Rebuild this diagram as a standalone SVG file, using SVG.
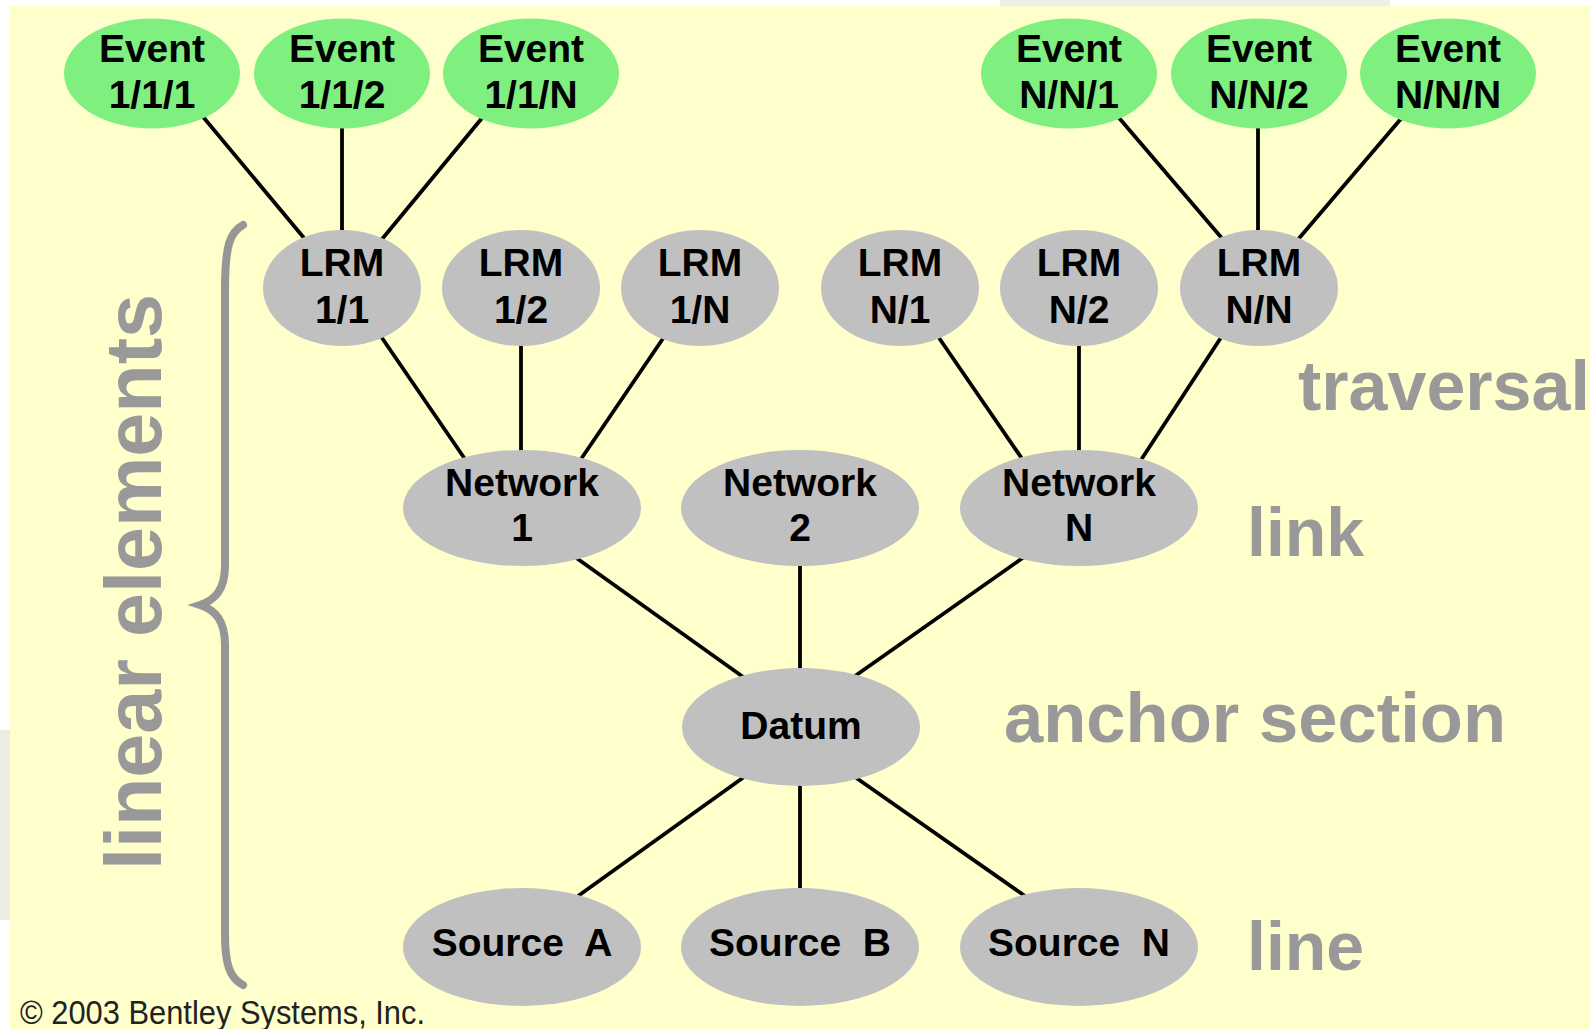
<svg xmlns="http://www.w3.org/2000/svg" width="1590" height="1029" viewBox="0 0 1590 1029">
<style>
.ev{fill:#7ff07f}
.gr{fill:#c0c0c0}
.nt{font-family:"Liberation Sans",Arial,sans-serif;font-weight:bold;font-size:39px;fill:#000;text-anchor:middle}
.lb{font-family:"Liberation Sans",Arial,sans-serif;font-weight:bold;fill:#999999}
.cn line{stroke:#000;stroke-width:3.8}
</style>
<rect x="0" y="0" width="1590" height="1029" fill="#ffffff"/>
<rect x="10" y="6" width="1580" height="1023" fill="#ffffcc"/>
<rect x="1000" y="0" width="390" height="6" fill="#eef0e8"/>
<rect x="0" y="730" width="10" height="190" fill="#eceee4"/>

<g id="connectors" class="cn">
<line x1="199" y1="112" x2="309" y2="244"/>
<line x1="342" y1="122" x2="342" y2="236"/>
<line x1="487" y1="112" x2="378" y2="244"/>
<line x1="1114" y1="112" x2="1226" y2="243"/>
<line x1="1258" y1="122" x2="1258" y2="236"/>
<line x1="1405" y1="114" x2="1295" y2="243"/>
<line x1="380" y1="335" x2="467" y2="462"/>
<line x1="521" y1="340" x2="521" y2="456"/>
<line x1="664" y1="337" x2="579" y2="462"/>
<line x1="937" y1="335" x2="1025" y2="463"/>
<line x1="1079" y1="340" x2="1079" y2="456"/>
<line x1="1222" y1="336" x2="1139" y2="463"/>
<line x1="575" y1="557" x2="746" y2="679"/>
<line x1="800" y1="560" x2="800" y2="674"/>
<line x1="1024" y1="557" x2="855" y2="676"/>
<line x1="744" y1="777" x2="578" y2="896"/>
<line x1="800" y1="780" x2="800" y2="894"/>
<line x1="855" y1="777" x2="1025" y2="896"/>
</g>

<g id="event-1-1-1"><ellipse class="ev" cx="152" cy="73.5" rx="88" ry="55"/><text class="nt" x="152" y="62">Event</text><text class="nt" x="152" y="108">1/1/1</text></g>
<g id="event-1-1-2"><ellipse class="ev" cx="342" cy="73.5" rx="88" ry="55"/><text class="nt" x="342" y="62">Event</text><text class="nt" x="342" y="108">1/1/2</text></g>
<g id="event-1-1-N"><ellipse class="ev" cx="531" cy="73.5" rx="88" ry="55"/><text class="nt" x="531" y="62">Event</text><text class="nt" x="531" y="108">1/1/N</text></g>
<g id="event-N-N-1"><ellipse class="ev" cx="1069" cy="73.5" rx="88" ry="55"/><text class="nt" x="1069" y="62">Event</text><text class="nt" x="1069" y="108">N/N/1</text></g>
<g id="event-N-N-2"><ellipse class="ev" cx="1259" cy="73.5" rx="88" ry="55"/><text class="nt" x="1259" y="62">Event</text><text class="nt" x="1259" y="108">N/N/2</text></g>
<g id="event-N-N-N"><ellipse class="ev" cx="1448" cy="73.5" rx="88" ry="55"/><text class="nt" x="1448" y="62">Event</text><text class="nt" x="1448" y="108">N/N/N</text></g>

<g id="lrm-1-1"><ellipse class="gr" cx="342" cy="288" rx="79" ry="58"/><text class="nt" x="342" y="276">LRM</text><text class="nt" x="342" y="323">1/1</text></g>
<g id="lrm-1-2"><ellipse class="gr" cx="521" cy="288" rx="79" ry="58"/><text class="nt" x="521" y="276">LRM</text><text class="nt" x="521" y="323">1/2</text></g>
<g id="lrm-1-N"><ellipse class="gr" cx="700" cy="288" rx="79" ry="58"/><text class="nt" x="700" y="276">LRM</text><text class="nt" x="700" y="323">1/N</text></g>
<g id="lrm-N-1"><ellipse class="gr" cx="900" cy="288" rx="79" ry="58"/><text class="nt" x="900" y="276">LRM</text><text class="nt" x="900" y="323">N/1</text></g>
<g id="lrm-N-2"><ellipse class="gr" cx="1079" cy="288" rx="79" ry="58"/><text class="nt" x="1079" y="276">LRM</text><text class="nt" x="1079" y="323">N/2</text></g>
<g id="lrm-N-N"><ellipse class="gr" cx="1259" cy="288" rx="79" ry="58"/><text class="nt" x="1259" y="276">LRM</text><text class="nt" x="1259" y="323">N/N</text></g>

<g id="network-1"><ellipse class="gr" cx="522" cy="508" rx="119" ry="58"/><text class="nt" x="522" y="496">Network</text><text class="nt" x="522" y="541">1</text></g>
<g id="network-2"><ellipse class="gr" cx="800" cy="508" rx="119" ry="58"/><text class="nt" x="800" y="496">Network</text><text class="nt" x="800" y="541">2</text></g>
<g id="network-N"><ellipse class="gr" cx="1079" cy="508" rx="119" ry="58"/><text class="nt" x="1079" y="496">Network</text><text class="nt" x="1079" y="541">N</text></g>

<g id="datum"><ellipse class="gr" cx="801" cy="727" rx="119" ry="59"/><text class="nt" x="801" y="739">Datum</text></g>

<g id="source-A"><ellipse class="gr" cx="522" cy="947" rx="119" ry="59"/><text class="nt" x="522" y="956" xml:space="preserve">Source  A</text></g>
<g id="source-B"><ellipse class="gr" cx="800" cy="947" rx="119" ry="59"/><text class="nt" x="800" y="956" xml:space="preserve">Source  B</text></g>
<g id="source-N"><ellipse class="gr" cx="1079" cy="947" rx="119" ry="59"/><text class="nt" x="1079" y="956" xml:space="preserve">Source  N</text></g>

<g id="labels">
<text class="lb" x="1298" y="410" font-size="70">traversal</text>
<text class="lb" x="1247" y="556" font-size="68">link</text>
<text class="lb" x="1004" y="742" font-size="70" textLength="502" lengthAdjust="spacingAndGlyphs">anchor section</text>
<text class="lb" x="1247" y="970" font-size="68">line</text>
<text class="lb" font-size="80" text-anchor="middle" transform="translate(161,582) rotate(-90)" textLength="576" lengthAdjust="spacingAndGlyphs">linear elements</text>
</g>

<g id="brace">
<path d="M243 225 C230 232 225 245 225 290 L225 565 C225 590 215 600 200 605 C215 610 225 620 225 645 L225 935 C225 965 230 978 243 985" fill="none" stroke="#969696" stroke-width="8" stroke-linecap="round"/>
</g>

<text x="20" y="1024" font-family="'Liberation Sans',Arial,sans-serif" font-size="33" fill="#222222" textLength="405" lengthAdjust="spacingAndGlyphs">© 2003 Bentley Systems, Inc.</text>
</svg>
